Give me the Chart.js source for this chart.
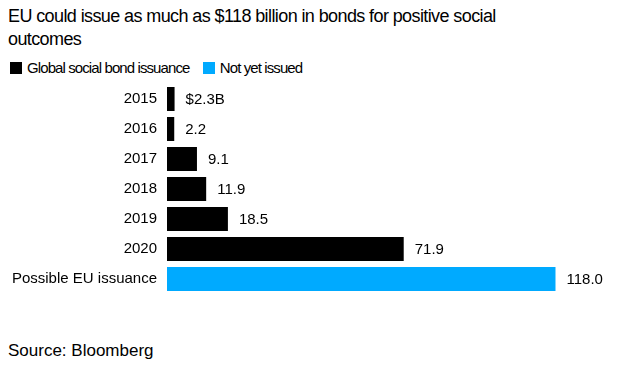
<!DOCTYPE html>
<html>
<head>
<meta charset="utf-8">
<script src="https://cdn.jsdelivr.net/npm/chart.js@4"></script>
<style>
  body { margin: 0; background: #fff; font-family: "Liberation Sans", Arial, sans-serif; color: #000; }
  #wrap { position: relative; width: 619px; height: 367px; overflow: hidden; }
  #title { position: absolute; left: 8px; top: 5px; width: 500px; font-size: 18px; line-height: 23px; letter-spacing: -0.6px; }
  #legend { position: absolute; left: 10px; top: 59px; font-size: 15px; line-height: 18px; letter-spacing: -0.9px; }
  #legend span.sw { display: inline-block; width: 12px; height: 12px; vertical-align: -1px; margin-right: 5px; }
  #legend span.item { margin-right: 10px; }
  #source { position: absolute; left: 8px; top: 341px; font-size: 17px; }
  #chart { position: absolute; left: 0; top: 65px; }
</style>
</head>
<body>
<div id="wrap">
  <div id="title">EU could issue as much as $118 billion in bonds for positive social outcomes</div>
  <div id="legend">
    <span class="item"><span class="sw" style="background:#000"></span>Global social bond issuance</span>
    <span class="item"><span class="sw" style="background:#00aaff"></span>Not yet issued</span>
  </div>
  <canvas id="chart" width="619" height="248"></canvas>
  <div id="source">Source: Bloomberg</div>
</div>
<script>
const categories = ['2015', '2016', '2017', '2018', '2019', '2020', 'Possible EU issuance'];
const issued = [2.3, 2.2, 9.1, 11.9, 18.5, 71.9, null];
const notYetIssued = [null, null, null, null, null, null, 118.0];

// value labels drawn just past the end of each bar
const valueLabels = {
    id: 'valueLabels',
    afterDatasetsDraw(chart) {
        const ctx = chart.ctx;
        ctx.save();
        ctx.font = '15px "Liberation Sans", Arial, sans-serif';
        ctx.fillStyle = '#000';
        ctx.textBaseline = 'middle';
        chart.data.datasets.forEach((ds, di) => {
            chart.getDatasetMeta(di).data.forEach((bar, i) => {
                const v = ds.data[i];
                if (v == null) return;
                let txt = v.toFixed(1);
                if (di === 0 && i === 0) txt = '$' + txt + 'B';
                ctx.fillText(txt, bar.x + 11, bar.y + 1);
            });
        });
        ctx.restore();
    }
};

new Chart(document.getElementById('chart'), {
    type: 'bar',
    data: {
        labels: categories,
        datasets: [
            { label: 'Global social bond issuance', data: issued, backgroundColor: '#000' },
            { label: 'Not yet issued', data: notYetIssued, backgroundColor: '#00aaff' }
        ]
    },
    options: {
        indexAxis: 'y',
        responsive: false,
        animation: false,
        layout: { padding: { left: 0, right: 24, top: 0, bottom: 0 } },
        datasets: { bar: { barPercentage: 0.8, categoryPercentage: 1.0 } },
        scales: {
            x: { display: false, min: 0, max: 130, stacked: true },
            y: {
                stacked: true,
                grid: { display: false, drawTicks: false },
                border: { display: false },
                ticks: {
                    color: '#000',
                    padding: 10,
                    font: { size: 15, family: '"Liberation Sans", Arial, sans-serif' }
                },
                afterFit(scale) { scale.width = 167; }
            }
        },
        plugins: {
            legend: { display: false },
            tooltip: { enabled: false }
        }
    },
    plugins: [valueLabels]
});
</script>
</body>
</html>
